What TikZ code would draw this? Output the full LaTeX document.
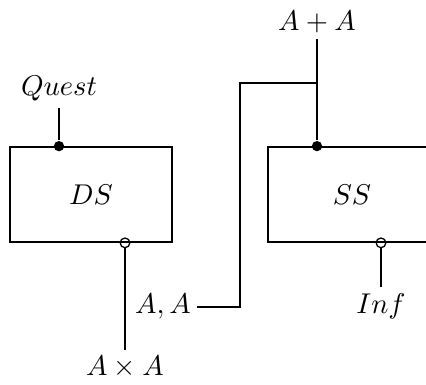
\documentclass[tikz,border=0pt]{standalone}
\usetikzlibrary{positioning}
\tikzset{
  sysbox/.style={draw, line width=0.6pt, minimum width=56.7pt, minimum height=33.25pt, inner sep=0pt},
  wire/.style={line width=0.55pt},
  sig/.style={inner sep=2pt},
  dotport/.style={circle, fill, inner sep=0pt, minimum size=3.6pt},
  ringport/.style={circle, draw, inner sep=0pt, minimum size=3.4pt, line width=0.45pt},
}
\begin{document}
\begin{tikzpicture}[x=0.35pt, y=-0.35pt]
  \useasboundingbox (0,0) rectangle (426,385);
  \clip (0,0) rectangle (426,385);
  % the two systems
  \node[sysbox] (ds) at (91,194.5) {$DS$};
  \node[sysbox, minimum width=58.8pt] (ss) at (352,194.5) {$SS$};
  % signal labels
  \node[sig] (quest) at (59,89) {$Quest$};
  \node[sig] (axa) at (125,367) {$A\times A$};
  \node[sig] (aa) at (163,307) {$A,A$};
  \node[sig] (apa) at (317,22) {$A+A$};
  \node[sig] (inf) at (381,306) {$Inf$};
  % ports
  \node[dotport] (dsin) at (ds.north -| quest) {};
  \node[ringport] (dsout) at (ds.south -| axa) {};
  \node[dotport] (ssin) at (ss.north -| apa) {};
  \node[ringport] (ssout) at (ss.south -| inf) {};
  \coordinate (junc) at (apa |- 0,83);
  \coordinate (bend) at (240,83);
  % wires
  \draw[wire] (quest) -- (dsin);
  \draw[wire] (dsout.south) -- (axa);
  \draw[wire] (apa) -- (ssin);
  \draw[wire] (aa.east) -| (bend) -- (junc);
  \draw[wire] (ssout.south) -- (inf);
\end{tikzpicture}
\end{document}
